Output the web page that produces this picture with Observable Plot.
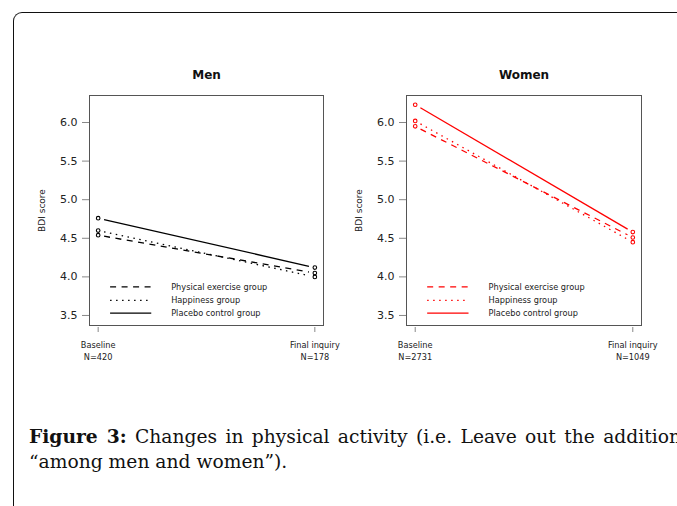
<!DOCTYPE html>
<html>
<head>
<meta charset="utf-8">
<script src="https://cdn.jsdelivr.net/npm/d3@7"></script>
<script src="https://cdn.jsdelivr.net/npm/@observablehq/plot@0.6"></script>
<style>
  html, body { margin: 0; padding: 0; background: #fff; }
  body { width: 677px; height: 506px; overflow: hidden; position: relative; }
  #border { position: absolute; left: 13px; top: 12px; width: 720px; height: 600px;
    border-top: 1.5px solid #111; border-left: 1.5px solid #111; border-top-left-radius: 9px; }
  #men { position: absolute; left: 0; top: 0; }
  #women { position: absolute; left: 340px; top: 0; }
  .cap { position: absolute; left: 29px; font-family: "DejaVu Serif", serif; font-size: 18.7px; color: #111; }
  #cap1 { top: 425px; width: 652px; text-align: justify; text-align-last: justify; }
  #cap2 { top: 451px; }
</style>
</head>
<body>
<div id="border"></div>
<div id="men"></div>
<div id="women"></div>
<div class="cap" id="cap1"><b>Figure 3:</b> Changes in physical activity (i.e. Leave out the addition</div>
<div class="cap" id="cap2">“among men and women”).</div>
<script>
// ---- data ----
const groups = ["Physical exercise group", "Happiness group", "Placebo control group"];
const timepoints = ["Baseline", "Final inquiry"];
const menN = ["N=420", "N=178"];
const womenN = ["N=2731", "N=1049"];
const menBaseline = [4.54, 4.60, 4.76];
const menFinal = [4.05, 4.00, 4.12];
const womenBaseline = [5.95, 6.02, 6.23];
const womenFinal = [4.51, 4.45, 4.58];
const yTicks = [3.5, 4.0, 4.5, 5.0, 5.5, 6.0];

// ---- styling ----
const dashes = ["6,5.5", "1.5,4.5", null];
const legendY = [3.87, 3.695, 3.53];
const legendX = [1.055, 1.245, 1.337];

function panel({title, base, fin, ns, color, width, marginLeft, marginRight}) {
  const pts = [];
  groups.forEach((g, i) => {
    pts.push({x: 1, y: base[i]});
    pts.push({x: 2, y: fin[i]});
  });
  const marks = [
    Plot.frame({stroke: "#555", strokeWidth: 1}),
    Plot.axisY({ticks: yTicks, tickSize: 7, tickPadding: 5, tickFormat: d3.format(".1f"),
      fontSize: 11, stroke: "#888", fill: "#222", label: null}),
    Plot.axisX({ticks: [1, 2], tickSize: 5, dy: 2, tickFormat: () => "", stroke: "#888", label: null}),
    Plot.text(timepoints, {x: (d, i) => i + 1, text: d => d, frameAnchor: "bottom", dy: 22.5, fontSize: 8.2, fill: "#222"}),
    Plot.text(ns, {x: (d, i) => i + 1, text: d => d, frameAnchor: "bottom", dy: 34, fontSize: 8.2, fill: "#222"}),
    Plot.text([title], {frameAnchor: "top", dy: -25, text: d => d, fontWeight: "bold", fontSize: 12, fill: "#111"}),
    Plot.text(["BDI score"], {frameAnchor: "left", dx: -47, text: d => d, rotate: -90, textAnchor: "middle", fontSize: 9, fill: "#222"})
  ];
  groups.forEach((g, i) => {
    const dash = dashes[i] ? {strokeDasharray: dashes[i]} : {};
    marks.push(Plot.arrow([{x1: 1, y1: base[i], x2: 2, y2: fin[i]}], {
      x1: "x1", y1: "y1", x2: "x2", y2: "y2", headLength: 0, insetStart: 6, insetEnd: 6,
      stroke: color, strokeWidth: 1.3, strokeLinecap: "butt", ...dash
    }));
    marks.push(Plot.link([g], {
      x1: () => legendX[0], x2: () => legendX[1], y1: () => legendY[i], y2: () => legendY[i],
      stroke: color, strokeWidth: 1.3, strokeLinecap: "butt", ...dash
    }));
    marks.push(Plot.text([g], {x: () => legendX[2], y: () => legendY[i], text: d => d, textAnchor: "start", fontSize: 8.2, fill: "#222"}));
  });
  marks.push(Plot.dot(pts, {x: "x", y: "y", r: 1.8, stroke: color, strokeWidth: 1.1, fill: "none"}));
  return Plot.plot({
    width, height: 380, marginLeft, marginRight, marginTop: 95, marginBottom: 55,
    x: {domain: [0.96, 2.04]},
    y: {domain: [3.37, 6.35]},
    style: {fontFamily: "DejaVu Sans, sans-serif", background: "transparent", overflow: "visible"},
    marks
  });
}

document.getElementById("men").append(panel({
  title: "Men", base: menBaseline, fin: menFinal, ns: menN, color: "#000",
  width: 340, marginLeft: 89, marginRight: 17
}));
document.getElementById("women").append(panel({
  title: "Women", base: womenBaseline, fin: womenFinal, ns: womenN, color: "#ff0000",
  width: 337, marginLeft: 66, marginRight: 36
}));
</script>
</body>
</html>
